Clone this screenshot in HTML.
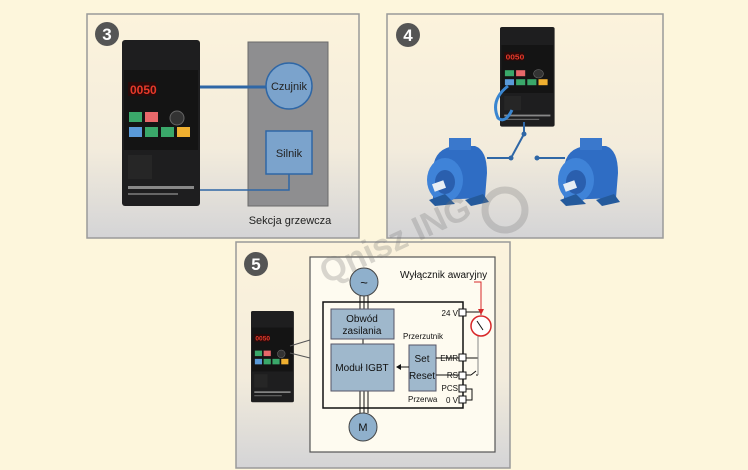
<!DOCTYPE html>
<html><head><meta charset="utf-8"><style>
body{margin:0;background:#fdf6dc;}
svg{display:block;font-family:"Liberation Sans",sans-serif;}
</style></head><body>
<svg width="748" height="470" viewBox="0 0 748 470">
<defs>
<linearGradient id="pg" x1="0" y1="0" x2="0" y2="1">
<stop offset="0" stop-color="#fcf3dc"/><stop offset="0.6" stop-color="#f3ecdc"/><stop offset="1" stop-color="#d4d4d6"/>
</linearGradient>
<g id="drive">
<rect x="0" y="0" width="78" height="166" rx="3" fill="#1e1e1f"/>
<rect x="2" y="30" width="74" height="80" fill="#141414"/>
<rect x="6" y="42" width="28" height="14" fill="#2a0a0a"/>
<text x="8" y="54" font-size="12" fill="#e83a2a" font-weight="bold">0050</text>
<rect x="7" y="72" width="13" height="10" fill="#3aa86a"/>
<rect x="23" y="72" width="13" height="10" fill="#e8686a"/>
<circle cx="55" cy="78" r="7" fill="#333" stroke="#666"/>
<rect x="7" y="87" width="13" height="10" fill="#5a9ad8"/>
<rect x="23" y="87" width="13" height="10" fill="#3aa86a"/>
<rect x="39" y="87" width="13" height="10" fill="#3aa86a"/>
<rect x="55" y="87" width="13" height="10" fill="#f0b030"/>
<rect x="6" y="115" width="24" height="24" fill="#262626"/>
<rect x="6" y="146" width="66" height="3" fill="#888"/>
<rect x="6" y="153" width="50" height="2" fill="#666"/>
</g>
<g id="motor">
<path d="M8 30 Q10 10 30 8 L50 8 Q62 12 62 35 L60 60 L8 62 Z" fill="#2f6dc4"/>
<ellipse cx="20" cy="42" rx="18" ry="22" fill="#3f83d8"/>
<ellipse cx="20" cy="44" rx="10" ry="12" fill="#2a5fae"/>
<rect x="8" y="44" width="12" height="8" fill="#e8eef4" transform="rotate(-20 14 48)"/>
<path d="M4 62 L20 56 L30 66 L10 68 Z" fill="#245a9c"/>
<path d="M40 62 L58 56 L64 64 L46 68 Z" fill="#245a9c"/>
<rect x="24" y="0" width="22" height="12" fill="#3a78cc"/>
</g>
</defs>
<rect width="748" height="470" fill="#fdf6dc"/>

<!-- Panel 3 -->
<rect x="87" y="14" width="272" height="224" fill="url(#pg)" stroke="#9a9a9a" stroke-width="1.5"/>
<circle cx="107" cy="34" r="12" fill="#555"/>
<text x="107" y="40" font-size="17" font-weight="bold" fill="#fff" text-anchor="middle">3</text>
<use href="#drive" x="122" y="40"/>
<rect x="248" y="42" width="80" height="164" fill="#8e8e90" stroke="#6a6a6a"/>
<line x1="200" y1="87" x2="266" y2="87" stroke="#2f67a6" stroke-width="3"/>
<circle cx="289" cy="86" r="23" fill="#7ba3cc" stroke="#2f67a6" stroke-width="1.5"/>
<text x="289" y="90" font-size="11" text-anchor="middle" fill="#222">Czujnik</text>
<rect x="266" y="131" width="46" height="43" fill="#7ba3cc" stroke="#2f67a6" stroke-width="1.5"/>
<text x="289" y="157" font-size="11" text-anchor="middle" fill="#222">Silnik</text>
<polyline points="200,190 289,190 289,174" fill="none" stroke="#2f67a6" stroke-width="1.5"/>
<text x="290" y="224" font-size="11" text-anchor="middle" fill="#222">Sekcja grzewcza</text>

<!-- Panel 4 -->
<rect x="387" y="14" width="276" height="224" fill="url(#pg)" stroke="#9a9a9a" stroke-width="1.5"/>
<circle cx="408" cy="35" r="12" fill="#555"/>
<text x="408" y="41" font-size="17" font-weight="bold" fill="#fff" text-anchor="middle">4</text>
<g transform="translate(500,27) scale(0.7,0.6)"><use href="#drive"/></g>
<path d="M508 86 Q490 100 498 118 Q505 124 512 110" fill="none" stroke="#3a86d0" stroke-width="3"/>
<polyline points="524,122 524,134 511,158 487,158" fill="none" stroke="#2f67a6" stroke-width="2"/>
<circle cx="524" cy="134" r="2.5" fill="#2f67a6"/><circle cx="511" cy="158" r="2.5" fill="#2f67a6"/>
<line x1="537" y1="158" x2="565" y2="158" stroke="#2f67a6" stroke-width="2"/>
<circle cx="537" cy="158" r="2.5" fill="#2f67a6"/>
<use href="#motor" x="425" y="138"/>
<use href="#motor" x="556" y="138"/>

<!-- Panel 5 -->
<rect x="236" y="242" width="274" height="226" fill="url(#pg)" stroke="#9a9a9a" stroke-width="1.5"/>
<circle cx="256" cy="264" r="12" fill="#555"/>
<text x="256" y="270" font-size="17" font-weight="bold" fill="#fff" text-anchor="middle">5</text>
<g transform="translate(251,311) scale(0.55,0.55)"><use href="#drive"/></g>
<polyline points="290,346 310,340" stroke="#555" fill="none"/><polyline points="290,353 310,358" stroke="#555" fill="none"/>
<rect x="310" y="257" width="185" height="195" fill="#fefbf0" stroke="#555" stroke-width="1.2"/>
<rect x="323" y="302" width="140" height="106" fill="none" stroke="#111" stroke-width="1.5"/>
<g stroke="#111" stroke-width="1">
<line x1="360" y1="296" x2="360" y2="309"/><line x1="364" y1="296" x2="364" y2="309"/><line x1="368" y1="296" x2="368" y2="309"/>
<line x1="360" y1="391" x2="360" y2="413"/><line x1="364" y1="391" x2="364" y2="413"/><line x1="368" y1="391" x2="368" y2="413"/>
<line x1="363" y1="339" x2="363" y2="344"/>
</g>
<circle cx="364" cy="282" r="14" fill="#8fb0cc" stroke="#444"/>
<text x="364" y="287" font-size="13" text-anchor="middle" fill="#111">~</text>
<circle cx="363" cy="427" r="14" fill="#8fb0cc" stroke="#444"/>
<text x="363" y="431" font-size="11" text-anchor="middle" fill="#111">M</text>
<rect x="331" y="309" width="63" height="30" fill="#9fb8cc" stroke="#556"/>
<text x="362" y="322" font-size="10" text-anchor="middle" fill="#111">Obwód</text>
<text x="362" y="334" font-size="10" text-anchor="middle" fill="#111">zasilania</text>
<rect x="331" y="344" width="63" height="47" fill="#9fb8cc" stroke="#556"/>
<text x="362" y="371" font-size="10" text-anchor="middle" fill="#111">Moduł IGBT</text>
<rect x="409" y="345" width="27" height="46" fill="#9fb8cc" stroke="#556"/>
<text x="422" y="362" font-size="10" text-anchor="middle" fill="#111">Set</text>
<text x="422" y="379" font-size="10" text-anchor="middle" fill="#111">Reset</text>
<line x1="409" y1="367" x2="398" y2="367" stroke="#111"/>
<path d="M396 367 L401 364 L401 370 Z" fill="#111"/>
<text x="403" y="339" font-size="8" fill="#111">Przerzutnik</text>
<text x="408" y="402" font-size="8" fill="#111">Przerwa</text>
<text x="400" y="278" font-size="10" fill="#111">Wyłącznik awaryjny</text>
<g stroke="#111" stroke-width="1" fill="#fff">
<line x1="436" y1="358" x2="459" y2="358"/><line x1="436" y1="375" x2="459" y2="375"/>
<rect x="459" y="309" width="7" height="7"/><rect x="459" y="354" width="7" height="7"/>
<rect x="459" y="372" width="7" height="7"/><rect x="459" y="385" width="7" height="7"/><rect x="459" y="396" width="7" height="7"/>
<polyline points="466,312 481,312 481,315" fill="none"/>
<line x1="466" y1="358" x2="478" y2="358"/>
<line x1="466" y1="375" x2="471" y2="375"/><line x1="471" y1="375" x2="476" y2="371"/><line x1="476" y1="375" x2="478" y2="375"/>
<polyline points="466,389 472,389 472,400 466,400" fill="none"/>
</g>
<line x1="478" y1="335" x2="478" y2="375" stroke="#888"/>
<circle cx="481" cy="326" r="10" fill="#fff" stroke="#d8282a" stroke-width="1.5"/>
<line x1="477" y1="321" x2="483" y2="330" stroke="#111"/>
<polyline points="474,282 481,282 481,312" fill="none" stroke="#d8282a"/>
<path d="M481 315 L478 309 L484 309 Z" fill="#d8282a"/>
<g font-size="8" fill="#111" text-anchor="end">
<text x="458" y="316">24 V</text><text x="458" y="361">EMR</text><text x="458" y="378">RS</text>
<text x="458" y="391">PCS</text><text x="458" y="403">0 V</text>
</g>

<!-- watermark -->
<g opacity="0.28" fill="#777">
<text x="400" y="250" font-size="34" font-weight="bold" text-anchor="middle" transform="rotate(-25 400 250)">Qnisz ING</text>
<circle cx="505" cy="210" r="20" fill="none" stroke="#777" stroke-width="7"/>
</g>
</svg>
</body></html>
